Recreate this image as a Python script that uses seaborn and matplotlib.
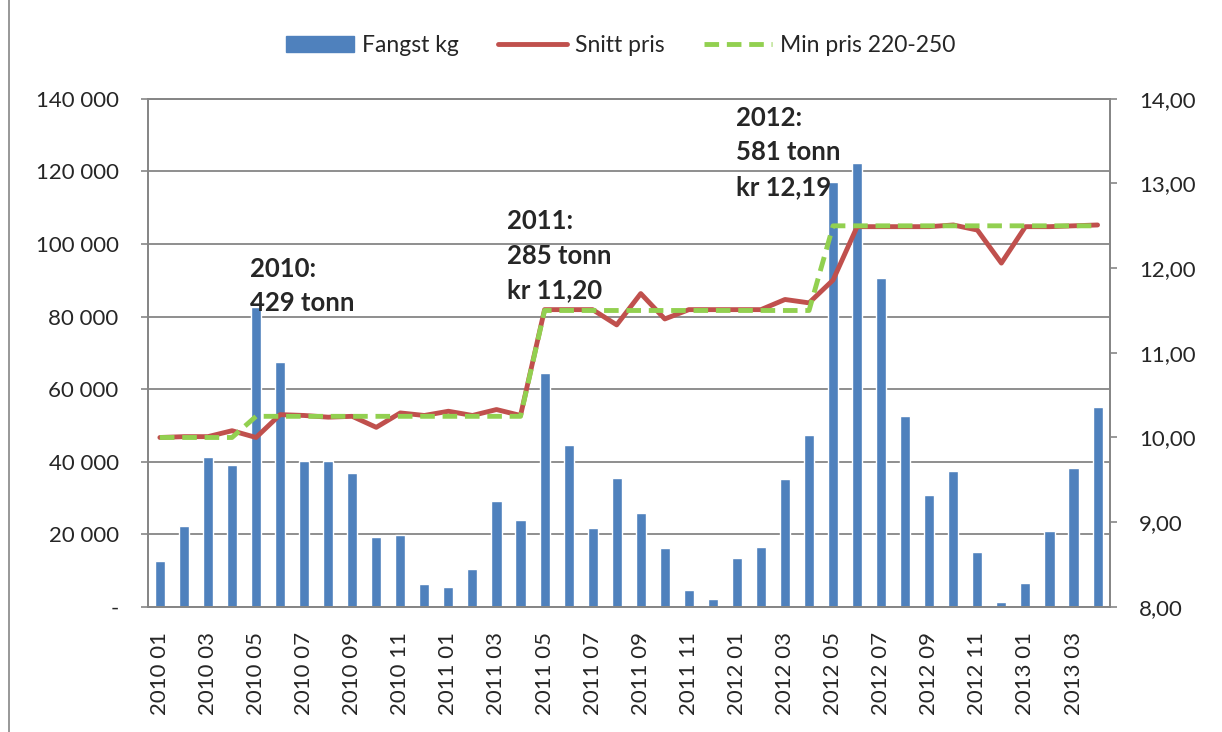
import numpy as np
import pandas as pd
import matplotlib
matplotlib.use("Agg")
import matplotlib.pyplot as plt
import seaborn as sns
from matplotlib.patches import Patch, Rectangle
from matplotlib.lines import Line2D

# data
maaneder = [f"{y} {m:02d}" for y in (2010, 2011, 2012) for m in range(1, 13)] + \
           ["2013 01", "2013 02", "2013 03", "2013 04"]
fangst_kg = [12700, 22300, 41400, 39200, 82500, 67500, 40300, 40300, 36900, 19300,
             19700, 6400, 5400, 10400, 29100, 23900, 64400, 44500, 21600, 35500,
             25900, 16200, 4700, 2200, 13500, 16400, 35300, 47400, 117200, 122400,
             90500, 52500, 30700, 37300, 15000, 1400, 6500, 21000, 38200, 55000]
snitt_pris = [10.00, 10.01, 10.01, 10.08, 10.00, 10.27, 10.26, 10.24, 10.25, 10.12,
              10.29, 10.26, 10.31, 10.26, 10.33, 10.26, 11.51, 11.51, 11.51, 11.33,
              11.70, 11.40, 11.51, 11.51, 11.51, 11.51, 11.63, 11.59, 11.86, 12.49,
              12.49, 12.49, 12.49, 12.51, 12.45, 12.06, 12.49, 12.49, 12.50, 12.51]
min_pris = [10.00] * 4 + [10.25] * 12 + [11.50] * 12 + [12.50] * 12

aar_tekst = ["2010:\n429 tonn", "2011:\n285 tonn\nkr 11,20", "2012:\n581 tonn\nkr 12,19"]
aar_pos = [(3.75, 96500), (14.45, 109500), (23.95, 138000)]

blaa = "#4F81BD"
rod = "#C0504D"
gronn = "#92D050"
grid_farge = "#868686"

sns.set_style("white")
plt.rcParams["font.family"] = ["Lato", "DejaVu Sans"]

df = pd.DataFrame({"maaned": maaneder, "fangst": fangst_kg,
                   "snitt": snitt_pris, "min": min_pris, "pos": np.arange(len(maaneder))})

fig = plt.figure(figsize=(12.22, 7.32), dpi=100)
ax = fig.add_axes([0.121, 0.171, 0.787, 0.694])

sns.barplot(data=df, x="maaned", y="fangst", color=blaa, width=0.42,
            saturation=1, ax=ax, zorder=2)
ax.set_ylim(0, 140000)
ax.set_yticks(np.arange(0, 140001, 20000))
ax.set_yticklabels(["-"] + [f"{v:,}".replace(",", " ") for v in range(20000, 140001, 20000)])
ax.yaxis.grid(True, color=grid_farge, lw=1.3)
ax.set_axisbelow(True)
ax.set_xlim(-0.5, len(maaneder) - 0.5)
ax.set_xticks(np.arange(0, len(maaneder), 2))
ax.set_xticklabels(maaneder[::2], rotation=90)
ax.set_xticks(np.arange(-0.5, len(maaneder), 1), minor=True)
ax.tick_params(axis="x", which="major", length=0, pad=18, labelsize=16)
ax.tick_params(axis="x", which="minor", length=5, color=grid_farge, width=1.2)
ax.tick_params(axis="y", length=5, color=grid_farge, width=1.2, labelsize=16, pad=16)
ax.set_xlabel("")
ax.set_ylabel("")
for s in ax.spines.values():
    s.set_color(grid_farge)
    s.set_linewidth(1.3)

ax2 = ax.twinx()
sns.lineplot(data=df, x="pos", y="snitt", color=rod, lw=3.5, ax=ax2, zorder=3)
sns.lineplot(data=df, x="pos", y="min", color=gronn, lw=3.5, ax=ax2, zorder=4,
             dashes=False, linestyle=(0, (3, 1.6)))
ax2.set_ylim(8, 14)
ax2.set_yticks(np.arange(8, 14.01, 1))
ax2.set_yticklabels([f"{v:.2f}".replace(".", ",") for v in np.arange(8, 14.01, 1)])
ax2.tick_params(axis="y", length=5, color=grid_farge, width=1.2, labelsize=16, pad=16)
ax2.set_ylabel("")
ax2.set_xlabel("")
for s in ax2.spines.values():
    s.set_color(grid_farge)
    s.set_linewidth(1.3)
ax2.set_xlim(-0.5, len(maaneder) - 0.5)

for tekst, (x, y) in zip(aar_tekst, aar_pos):
    ax.text(x, y, tekst, fontsize=18.5, fontweight="bold", va="top", ha="left",
            linespacing=1.52, zorder=5)

handles = [Patch(color=blaa), Line2D([], [], color=rod, lw=3.5),
           Line2D([], [], color=gronn, lw=3.5, linestyle=(0, (3, 1.6)))]
fig.legend(handles, ["Fangst kg", "Snitt pris", "Min pris 220-250"], loc="center",
           bbox_to_anchor=(0.508, 0.938), ncol=3, frameon=False, fontsize=16.5,
           handlelength=3.0, columnspacing=1.7, handletextpad=0.35)

fig.patches.append(Rectangle((0.007, -0.01), 1.0, 1.02, transform=fig.transFigure,
                             fill=False, edgecolor=grid_farge, lw=1.2))

fig.savefig("out.png", dpi=100)
